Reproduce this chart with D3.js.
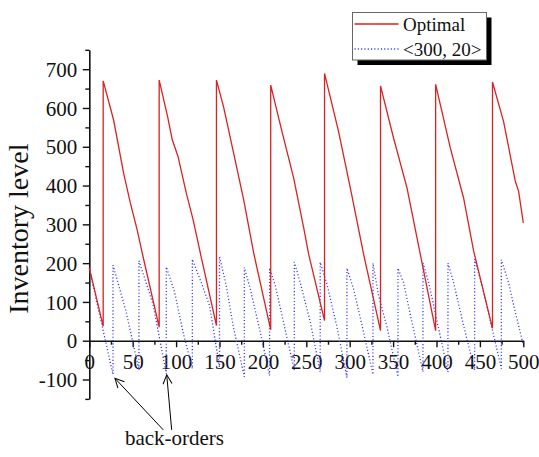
<!DOCTYPE html>
<html>
<head>
<meta charset="utf-8">
<script src="https://cdn.jsdelivr.net/npm/d3@7/dist/d3.min.js"></script>
<style>
  body { margin: 0; background: #fff; }
  svg { display: block; font-family: "Liberation Serif", "Times New Roman", serif; }
</style>
</head>
<body>
<div id="chart"></div>
<script>
/* series (day, inventory level) */
const seriesNames = ["Optimal", "<300, 20>"];

const optimalDays = [0, 16, 16, 28, 39.5, 47.2, 55, 62.6, 80.5, 80.5, 90.2, 95.6, 102.2, 111.7, 119.5, 129,
    146.5, 146.5, 154.7, 166.2, 177.8, 189.3, 209, 209, 222, 235.4, 246.9, 252.7, 271, 271,
    287.2, 300.7, 316, 335.5, 335.5, 350.6, 366, 381.3, 399, 399, 415.9, 431.2, 442.7,
    464.5, 464.5, 477.3, 490.8, 494.6, 500];
const optimalLevel = [188, 37, 670, 569, 432, 356, 287, 210, 35, 672, 578, 518, 475, 381, 313, 215,
    39, 672, 603, 484, 364, 227, 28, 659, 539, 420, 292, 223, 52, 689,
    539, 394, 223, 26, 657, 522, 394, 223, 26, 661, 497, 368, 232,
    32, 667, 565, 411, 385, 304];

const policyDays = [0, 27.3, 27.3, 42.6, 57.2, 57.2, 73.3, 88.7, 88.7, 98.3, 108, 118.7, 118.7, 129, 138.6,
    150, 150, 157.8, 166, 178.6, 178.6, 185.5, 197, 207.7, 207.7, 214.3, 225.8, 236.2, 236.2,
    243, 254.6, 266, 266, 273.8, 285.4, 296.8, 296.8, 304.5, 316, 326.8, 326.8, 333.3, 343,
    355.6, 355.6, 362, 371.7, 384.4, 384.4, 391, 402.5, 413.2, 413.2, 419.7, 431.2, 443.9,
    443.9, 450.5, 456.2, 474.7, 474.7, 483, 490.8, 500];
const policyLevel = [186, -87, 195, 73, -76, 206, 95, -85, 190, 125, 22, -72, 210, 150, 90,
    -68, 217, 142, 35, -93, 189, 133, 22, -90, 187, 142, 27, -76, 203,
    150, 48, -80, 202, 146, 35, -95, 187, 133, 22, -87, 200, 116, 35,
    -93, 187, 150, 48, -80, 201, 150, 31, -81, 200, 150, 39, -76,
    210, 159, 108, -72, 209, 150, 73, -10];

const xTickValues = [0, 50, 100, 150, 200, 250, 300, 350, 400, 450, 500];
const xMinorValues = [25, 75, 125, 175, 225, 275, 325, 375, 425, 475];
const yTickValues = [-100, 0, 100, 200, 300, 400, 500, 600, 700];
const yMinorValues = [-150, -50, 50, 150, 250, 350, 450, 550, 650, 750];

const yTitle = "Inventory level";
const noteText = "back-orders";
const noteAt = [41, -270];
const arrowTails = [[85.3, -230], [94.9, -230]];
const arrowTips = [[29.6, -97], [89.2, -88]];

const W = 539, H = 457;

const svg = d3.select("#chart").append("svg")
    .attr("width", W)
    .attr("height", H);

const x = d3.scaleLinear().domain([0, 500]).range([89.3, 523.3]);
const y = d3.scaleLinear().domain([-150, 750]).range([398.9, 49.8]);

/* arrow head for the annotation */
svg.append("defs").append("marker")
    .attr("id", "arrow")
    .attr("viewBox", "-10 -6 12 12")
    .attr("markerUnits", "userSpaceOnUse")
    .attr("markerWidth", 12)
    .attr("markerHeight", 12)
    .attr("orient", "auto")
    .append("path")
    .attr("d", "M-9,-4.5L0,0L-9,4.5")
    .attr("fill", "none")
    .attr("stroke", "#000")
    .attr("stroke-width", 1);

/* axes */
function styleAxis(g) {
    g.selectAll("path.domain").attr("stroke", "#111").attr("stroke-width", 1.6);
    g.selectAll(".tick line").attr("stroke", "#111").attr("stroke-width", 1.4);
    g.selectAll("text").attr("fill", "#111").attr("font-size", 21)
        .attr("font-family", "Liberation Serif, Times New Roman, serif");
}

/* plain hyphen for negatives, as in the picture */
const plain = d => String(d);

const yAxisG = svg.append("g")
    .attr("transform", `translate(${x(0)},0)`)
    .call(d3.axisLeft(y).tickValues(yTickValues).tickFormat(plain)
        .tickSize(6.5).tickPadding(5.5).tickSizeOuter(0))
    .call(styleAxis);
yAxisG.selectAll("text").attr("dy", "0.34em");

svg.append("g")
    .attr("transform", `translate(${x(0)},0)`)
    .call(d3.axisLeft(y).tickValues(yMinorValues).tickSize(4).tickFormat(""))
    .call(g => g.select("path.domain").remove())
    .call(styleAxis);

svg.append("g")
    .attr("transform", `translate(0,${y(0)})`)
    .call(d3.axisBottom(x).tickValues(xTickValues).tickFormat(plain)
        .tickSize(6.5).tickPadding(6.5).tickSizeOuter(0))
    .call(styleAxis);

svg.append("g")
    .attr("transform", `translate(0,${y(0)})`)
    .call(d3.axisBottom(x).tickValues(xMinorValues).tickSize(4).tickFormat(""))
    .call(g => g.select("path.domain").remove())
    .call(styleAxis);

/* y title */
svg.append("text")
    .attr("transform", `translate(28,${(y(-100) + y(750)) / 2 + 14}) rotate(-90)`)
    .attr("text-anchor", "middle")
    .attr("font-size", 28)
    .attr("fill", "#111")
    .text(yTitle);

/* series */
const line = d3.line().x(d => x(d[0])).y(d => y(d[1]));

svg.append("path")
    .datum(d3.zip(policyDays, policyLevel))
    .attr("d", line)
    .attr("fill", "none")
    .attr("stroke", "#3535ff")
    .attr("stroke-width", 1.3)
    .attr("stroke-dasharray", "1.1,2.2");

svg.append("path")
    .datum(d3.zip(optimalDays, optimalLevel))
    .attr("d", line)
    .attr("fill", "none")
    .attr("stroke", "#d92222")
    .attr("stroke-width", 1.3);

/* annotation */
svg.selectAll("line.note").data(d3.zip(arrowTails, arrowTips)).enter()
    .append("line")
    .attr("class", "note")
    .attr("x1", d => x(d[0][0]))
    .attr("y1", d => y(d[0][1]))
    .attr("x2", d => x(d[1][0]))
    .attr("y2", d => y(d[1][1]))
    .attr("stroke", "#000")
    .attr("stroke-width", 1)
    .attr("marker-end", "url(#arrow)");

svg.append("text")
    .attr("x", x(noteAt[0]))
    .attr("y", y(noteAt[1]))
    .attr("font-size", 21)
    .attr("fill", "#111")
    .text(noteText);

/* legend box with drop shadow */
const legend = svg.append("g").attr("transform", "translate(352.5,12.5)");
legend.append("rect")
    .attr("x", 5).attr("y", 5)
    .attr("width", 134).attr("height", 47.5)
    .attr("fill", "#000");
legend.append("rect")
    .attr("width", 134).attr("height", 47.5)
    .attr("fill", "#fff")
    .attr("stroke", "#666")
    .attr("stroke-width", 1);

const legendStyles = [
    { stroke: "#d92222", dash: null, width: 1.3 },
    { stroke: "#3535ff", dash: "1.1,2.2", width: 1.3 }
];
seriesNames.forEach((name, i) => {
    const row = legend.append("g").attr("transform", `translate(0,${11.5 + i * 25})`);
    row.append("line")
        .attr("x1", 2).attr("x2", 46)
        .attr("stroke", legendStyles[i].stroke)
        .attr("stroke-width", legendStyles[i].width)
        .attr("stroke-dasharray", legendStyles[i].dash);
    row.append("text")
        .attr("x", 50.5)
        .attr("y", 6.5)
        .attr("font-size", 19)
        .attr("fill", "#111")
        .text(name);
});
</script>
</body>
</html>
